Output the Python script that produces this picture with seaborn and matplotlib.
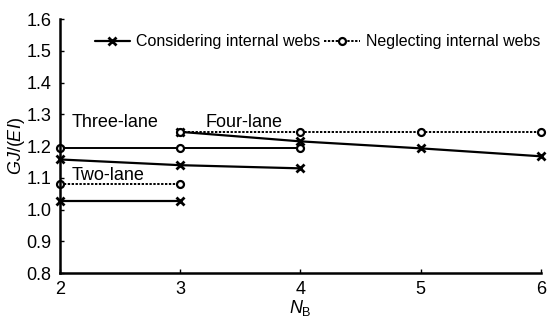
import matplotlib
matplotlib.use("Agg")
import matplotlib.pyplot as plt
import seaborn as sns
import pandas as pd

sns.set_theme(style="ticks")
plt.rcParams['font.family'] = ['Liberation Sans', 'DejaVu Sans']
plt.rcParams['mathtext.fontset'] = 'custom'
plt.rcParams['mathtext.it'] = 'Liberation Sans:italic'
plt.rcParams['mathtext.rm'] = 'Liberation Sans'
plt.rcParams['text.color'] = 'black'
plt.rcParams['axes.labelcolor'] = 'black'

# Data
two_nb = [2, 3]
two_cons = [1.027, 1.027]
two_negl = [1.081, 1.081]

three_nb = [2, 3, 4]
three_cons = [1.158, 1.140, 1.130]
three_negl = [1.193, 1.193, 1.193]

four_nb = [3, 4, 5, 6]
four_cons = [1.245, 1.215, 1.193, 1.168]
four_negl = [1.244, 1.244, 1.244, 1.244]

x_ticks = [2, 3, 4, 5, 6]
y_ticks = [0.8, 0.9, 1.0, 1.1, 1.2, 1.3, 1.4, 1.5, 1.6]

fig = plt.figure(figsize=(5.49, 3.24), dpi=100)
ax = fig.add_axes([0.109, 0.157, 0.876, 0.784])

cons_kw = dict(color='black', marker='x', markersize=6, markeredgewidth=2.0,
               markeredgecolor='black', linewidth=1.6, linestyle='-')
negl_kw = dict(color='black', marker='o', markersize=5, markerfacecolor='white',
               markeredgecolor='black', markeredgewidth=1.6, linewidth=1.4,
               linestyle=(0, (1.2, 0.8)))

series = [
    (two_nb, two_cons, cons_kw, 'Considering internal webs'),
    (two_nb, two_negl, negl_kw, 'Neglecting internal webs'),
    (three_nb, three_cons, cons_kw, None),
    (three_nb, three_negl, dict(negl_kw, linestyle='-'), None),
    (four_nb, four_cons, cons_kw, None),
    (four_nb, four_negl, negl_kw, None),
]
for xs, ys, kw, lab in series:
    df = pd.DataFrame({'NB': xs, 'GJ': ys})
    sns.lineplot(data=df, x='NB', y='GJ', ax=ax, label=lab, clip_on=False, **kw)

ax.set_xlim(2, 6)
ax.set_ylim(0.8, 1.6)
ax.set_xticks(x_ticks)
ax.set_yticks(y_ticks)
ax.set_yticklabels([f"{v:.1f}" for v in y_ticks])
ax.tick_params(direction='in', length=3, width=1, labelsize=13, colors='black', pad=6)
for s in ['top', 'right']:
    ax.spines[s].set_visible(False)
for s in ['left', 'bottom']:
    ax.spines[s].set_linewidth(1.8)
    ax.spines[s].set_color('black')

ax.set_xlabel(r'$N_{\mathrm{B}}$', fontsize=13, labelpad=0)
ax.set_ylabel(r'$GJ$/($EI$)', fontsize=13)
ax.yaxis.set_label_coords(-0.069, 0.5)

ax.text(2.1, 1.273, 'Three-lane', fontsize=13, ha='left', va='center')
ax.text(2.1, 1.107, 'Two-lane', fontsize=13, ha='left', va='center')
ax.text(3.215, 1.275, 'Four-lane', fontsize=13, ha='left', va='center')

leg = ax.legend(loc='upper left', bbox_to_anchor=(0.059, 0.965), ncol=2, frameon=False,
                fontsize=11.5, handlelength=2.2, handletextpad=0.4, columnspacing=0.25,
                borderaxespad=0)
for t in leg.get_texts():
    t.set_color('black')

fig.savefig('out.png', dpi=100)
